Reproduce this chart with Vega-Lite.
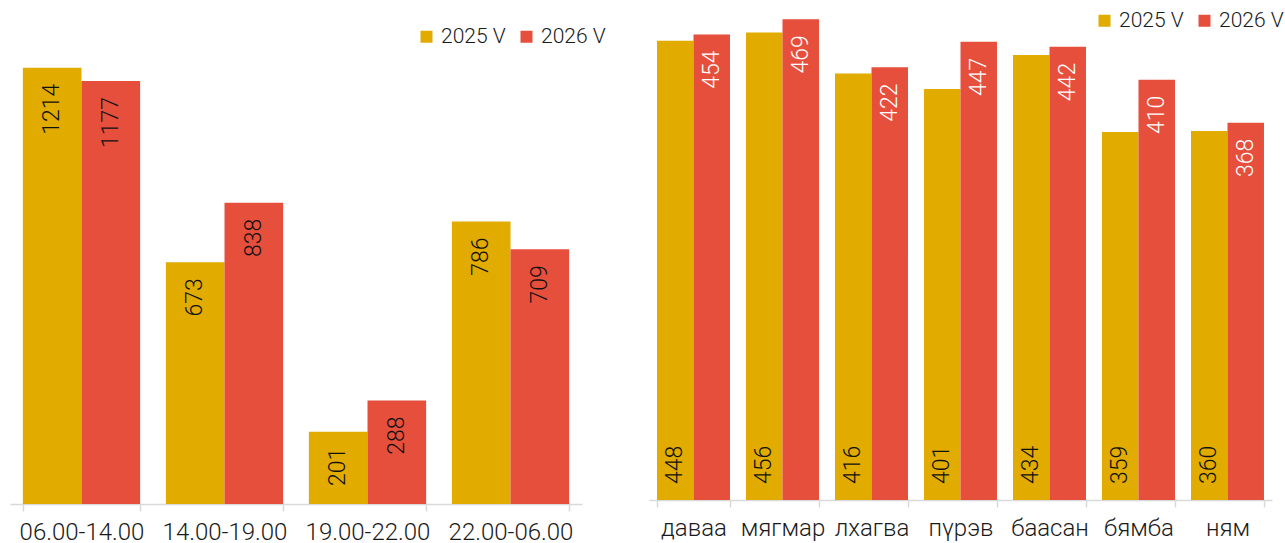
{
  "$schema": "https://vega.github.io/schema/vega-lite/v6.json",
  "padding": {"left": 10, "top": 10, "right": 0, "bottom": 0},
  "autosize": {"type": "pad"},
  "spacing": 67,
  "bounds": "flush",
  "background": "white",
  "config": {
    "view": {"stroke": null},
    "font": "Roboto",
    "axis": {
      "domainColor": "#d9d9d9",
      "domainWidth": 1.5,
      "tickColor": "#d9d9d9",
      "tickWidth": 1.5,
      "tickSize": 7,
      "labelPadding": 9,
      "labelFontSize": 24,
      "labelFontWeight": 300,
      "labelColor": "#1a1a1a",
      "labelFont": "Roboto",
      "grid": false
    },
    "legend": {
      "title": null,
      "direction": "horizontal",
      "symbolType": "square",
      "symbolSize": 144,
      "symbolStrokeWidth": 0,
      "labelFontSize": 21,
      "labelFontWeight": 300,
      "labelColor": "#1a1a1a",
      "labelFont": "Roboto",
      "labelOffset": 4,
      "columnPadding": 10
    }
  },
  "resolve": {"scale": {"color": "independent", "xOffset": "independent", "x": "independent", "y": "independent"}, "legend": {"color": "independent"}},
  "hconcat": [
    {
      "width": 572,
      "height": 492,
      "data": {"values": [
        {"period": "06.00-14.00", "year": "2025 V", "value": 1214},
        {"period": "06.00-14.00", "year": "2026 V", "value": 1177},
        {"period": "14.00-19.00", "year": "2025 V", "value": 673},
        {"period": "14.00-19.00", "year": "2026 V", "value": 838},
        {"period": "19.00-22.00", "year": "2025 V", "value": 201},
        {"period": "19.00-22.00", "year": "2026 V", "value": 288},
        {"period": "22.00-06.00", "year": "2025 V", "value": 786},
        {"period": "22.00-06.00", "year": "2026 V", "value": 709}
      ]},
      "encoding": {
        "x": {"field": "period", "type": "nominal", "sort": null,
              "scale": {"paddingInner": 0.18, "paddingOuter": 0.09},
              "axis": {"title": null, "labelAngle": 0, "tickBand": "extent"}},
        "xOffset": {"field": "year", "type": "nominal", "sort": null},
        "y": {"field": "value", "type": "quantitative",
              "scale": {"domain": [0, 1369], "nice": false}, "axis": null}
      },
      "layer": [
        {"mark": {"type": "bar"},
         "encoding": {"color": {"field": "year", "type": "nominal",
           "scale": {"domain": ["2025 V", "2026 V"], "range": ["#E1AB00", "#E74F3D"]},
           "legend": {"orient": "none", "legendX": 406, "legendY": 14}}}},
        {"mark": {"type": "text", "angle": 270, "align": "right", "baseline": "middle", "dx": -16,
                  "fontSize": 23, "fontWeight": 300, "color": "#111111"},
         "encoding": {"text": {"field": "value", "type": "quantitative"}}}
      ]
    },
    {
      "width": 623,
      "height": 488,
      "data": {"values": [
        {"day": "даваа", "year": "2025 V", "value": 448},
        {"day": "даваа", "year": "2026 V", "value": 454},
        {"day": "мягмар", "year": "2025 V", "value": 456},
        {"day": "мягмар", "year": "2026 V", "value": 469},
        {"day": "лхагва", "year": "2025 V", "value": 416},
        {"day": "лхагва", "year": "2026 V", "value": 422},
        {"day": "пүрэв", "year": "2025 V", "value": 401},
        {"day": "пүрэв", "year": "2026 V", "value": 447},
        {"day": "баасан", "year": "2025 V", "value": 434},
        {"day": "баасан", "year": "2026 V", "value": 442},
        {"day": "бямба", "year": "2025 V", "value": 359},
        {"day": "бямба", "year": "2026 V", "value": 410},
        {"day": "ням", "year": "2025 V", "value": 360},
        {"day": "ням", "year": "2026 V", "value": 368}
      ]},
      "encoding": {
        "x": {"field": "day", "type": "nominal", "sort": null,
              "scale": {"paddingInner": 0.18, "paddingOuter": 0.09},
              "axis": {"title": null, "labelAngle": 0, "tickBand": "extent"}},
        "xOffset": {"field": "year", "type": "nominal", "sort": null},
        "y": {"field": "value", "type": "quantitative",
              "scale": {"domain": [0, 476], "nice": false}, "axis": null}
      },
      "layer": [
        {"mark": {"type": "bar"},
         "encoding": {"color": {"field": "year", "type": "nominal",
           "scale": {"domain": ["2025 V", "2026 V"], "range": ["#E1AB00", "#E74F3D"]},
           "legend": {"orient": "none", "legendX": 445, "legendY": -2}}}},
        {"transform": [{"filter": "datum.year === '2026 V'"}],
         "mark": {"type": "text", "angle": 270, "align": "right", "baseline": "middle", "dx": -16,
                  "fontSize": 23, "fontWeight": 300, "color": "#ffffff"},
         "encoding": {"text": {"field": "value", "type": "quantitative"}}},
        {"transform": [{"filter": "datum.year === '2025 V'"}],
         "mark": {"type": "text", "angle": 270, "align": "left", "baseline": "middle", "dx": 16,
                  "fontSize": 23, "fontWeight": 300, "color": "#111111"},
         "encoding": {"text": {"field": "value", "type": "quantitative"},
                      "y": {"datum": 0, "type": "quantitative"}}}
      ]
    }
  ]
}
